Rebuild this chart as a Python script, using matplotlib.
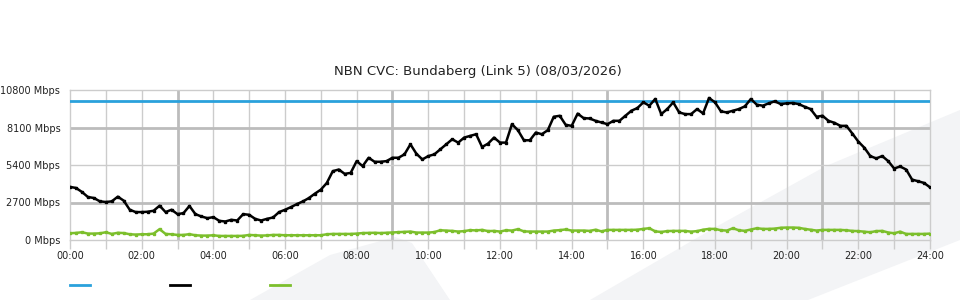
import numpy as np
import pandas as pd
from matplotlib import pyplot as plt
from matplotlib.lines import Line2D
from matplotlib.patches import Polygon

TITLE = "NBN CVC: Bundaberg (Link 5) (08/03/2026)"
CAPACITY_MBPS = 10000

# 10-minute samples, 00:00 .. 24:00
times = pd.date_range("2026-03-08 00:00", "2026-03-09 00:00", freq="10min")

traffic_mbps = [
    3821, 3749, 3459, 3096, 3024, 2783, 2735, 2783, 3120, 2831, 2179, 2010,   # 00-02
    2010, 2034, 2107, 2470, 2010, 2179, 1863, 1935, 2450, 1863, 1693, 1573,   # 02-04
    1645, 1380, 1332, 1452, 1404, 1863, 1814, 1524, 1404, 1524, 1621, 2008,   # 04-06
    2175, 2369, 2586, 2779, 3020, 3335, 3625, 4108, 4954, 5075, 4761, 4834,   # 06-08
    5680, 5318, 5922, 5632, 5632, 5680, 5922, 5922, 6164, 6890, 6212, 5801,   # 08-10
    6043, 6164, 6527, 6890, 7253, 7012, 7374, 7495, 7616, 6697, 6939, 7374,   # 10-12
    7012, 7012, 8340, 7905, 7180, 7180, 7737, 7616, 7905, 8872, 8945, 8292,   # 12-14
    8219, 9100, 8775, 8751, 8582, 8461, 8340, 8582, 8582, 8945, 9307, 9500,   # 14-16
    9911, 9670, 10153, 9065, 9428, 9911, 9186, 9065, 9065, 9428, 9114, 10226, # 16-18
    9911, 9259, 9186, 9307, 9428, 9621, 10150, 9742, 9670, 9839, 9984, 9790,  # 18-20
    9839, 9863, 9790, 9597, 9428, 8872, 8945, 8582, 8437, 8219, 8219, 7664,   # 20-22
    7084, 6648, 6043, 5874, 6043, 5680, 5148, 5293, 5075, 4351, 4230, 4109,   # 22-24
    3795,
]

upload_mbps = [
    486, 510, 558, 462, 462, 480, 558, 437, 520, 500, 413, 390,
    413, 413, 462, 780, 437, 413, 365, 365, 420, 340, 317, 317,
    340, 292, 292, 292, 292, 300, 365, 340, 317, 330, 365, 365,
    341, 341, 341, 341, 341, 341, 341, 413, 437, 437, 437, 437,
    460, 500, 510, 520, 500, 520, 534, 558, 580, 607, 534, 534,
    534, 570, 700, 680, 655, 607, 640, 710, 690, 727, 640, 655,
    607, 700, 680, 780, 620, 607, 607, 607, 607, 680, 710, 760,
    680, 680, 680, 655, 740, 620, 727, 727, 727, 727, 727, 740,
    800, 848, 620, 580, 640, 655, 655, 655, 600, 640, 740, 800,
    800, 700, 680, 848, 700, 660, 750, 848, 800, 800, 820, 880,
    897, 897, 880, 800, 740, 680, 727, 727, 727, 727, 700, 655,
    640, 600, 558, 640, 655, 540, 486, 600, 437, 437, 437, 437,
    460,
]

y_ticks = [0, 2700, 5400, 8100, 10800]
x_tick_hours = list(range(0, 25, 2))
x_tick_labels = ["%02d:00" % h for h in x_tick_hours]

BLUE = "#2aa1dc"
BLACK = "#000000"
GREEN = "#7cbf2c"
GRID = "#cccccc"
GRID_MAJOR = "#bcbcbc"

hours = (times - times[0]).total_seconds() / 3600.0

fig = plt.figure(figsize=(9.6, 3.0), dpi=100)

# faint background watermark
W, H = 960.0, 300.0
def px(pts):
    return [(x / W, 1 - y / H) for x, y in pts]

for shape in (
    [(250, 300), (330, 255), (395, 237), (412, 243), (450, 300)],
    [(590, 300), (714, 228), (826, 166), (960, 110), (960, 240), (808, 300)],
):
    fig.add_artist(Polygon(px(shape), closed=True, transform=fig.transFigure,
                           facecolor="#f3f4f6", edgecolor="none", zorder=0))

ax = fig.add_axes([70 / W, 1 - 240 / H, 860 / W, 150 / H])
ax.set_facecolor("none")
ax.set_xlim(0, 24)
ax.set_ylim(0, 10800)

# grid: hourly light lines, heavier every 6 h starting at 03:00
for h in range(1, 24):
    major = h % 6 == 3
    ax.axvline(h, color=GRID_MAJOR if major else GRID,
               lw=2 if major else 1, zorder=1)
for v in y_ticks[1:-1]:
    major = v in (2700, 8100)
    ax.axhline(v, color=GRID_MAJOR if major else GRID,
               lw=2 if major else 1, zorder=1)

for s in ax.spines.values():
    s.set_color(GRID)
    s.set_linewidth(1)

ax.axhline(CAPACITY_MBPS, color=BLUE, lw=2, zorder=3)
ax.plot(hours, traffic_mbps, color=BLACK, lw=1.8, marker="s", ms=1.6, zorder=4)
ax.plot(hours, upload_mbps, color=GREEN, lw=1.8, marker="s", ms=1.6, zorder=3)

ax.set_xticks(x_tick_hours)
ax.set_xticklabels(x_tick_labels)
ax.set_xticks(range(25), minor=True)
ax.tick_params(axis="x", which="both", length=6.5, width=1, color=GRID,
               labelsize=7, pad=1.5, labelcolor="#222222")
ax.set_yticks(y_ticks)
ax.set_yticklabels(["%d Mbps" % v for v in y_ticks])
ax.tick_params(axis="y", length=0, labelsize=7, pad=7, labelcolor="#222222")

fig.text(0.498, 1 - 71 / H, TITLE, ha="center", va="center", fontsize=9.5,
         color="#222222")

# legend swatches (no labels in the source)
for i, c in enumerate((BLUE, BLACK, GREEN)):
    x0 = (70 + 100 * i) / W
    fig.add_artist(Line2D([x0, x0 + 20 / W], [1 - 285 / H] * 2, color=c,
                          lw=2, transform=fig.transFigure))

fig.savefig("out.png", dpi=100)
